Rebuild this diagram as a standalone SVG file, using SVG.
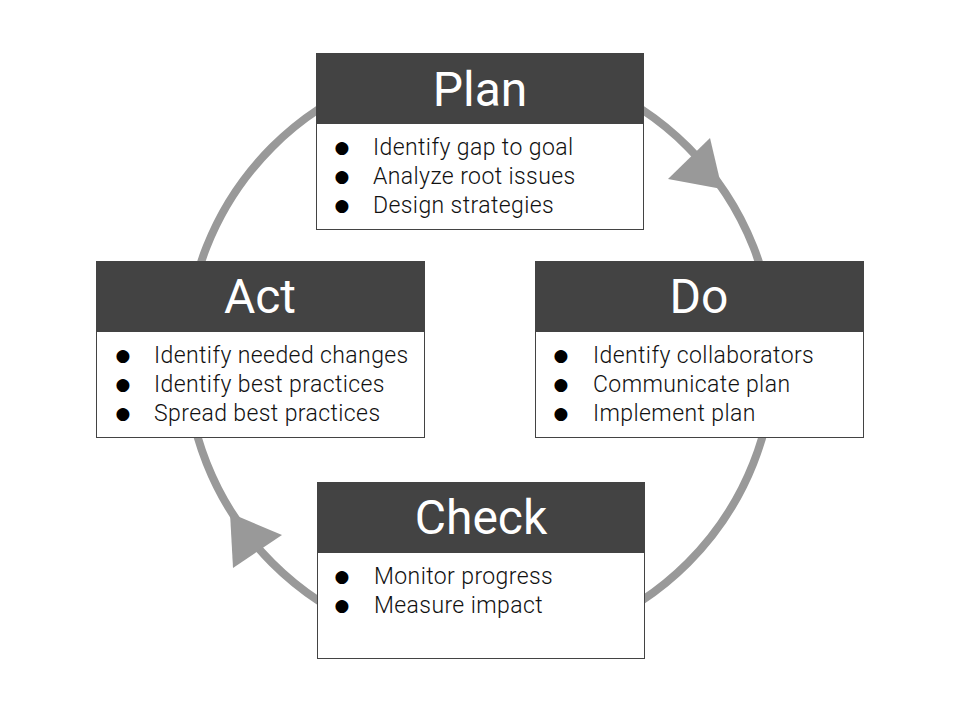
<svg xmlns="http://www.w3.org/2000/svg" width="960" height="720" viewBox="0 0 960 720">
<style>
.hdr{fill:#434343;stroke:#434343;stroke-width:1}
.body{fill:#fff;stroke:#434343;stroke-width:1}
.title{font-family:Roboto,"Liberation Sans",sans-serif;font-size:48px;fill:#fff;text-anchor:middle}
.item{font-family:Roboto,"Liberation Sans",sans-serif;font-weight:300;font-size:23px;letter-spacing:0.4px;fill:#111}
.bul{font-family:"DejaVu Sans",sans-serif;font-size:17px;fill:#000;text-anchor:middle}
.ring{fill:none;stroke:#999;stroke-width:8}
.head{fill:#999}
</style>
<rect width="960" height="720" fill="#fff"/>
<g id="connectors">
<circle class="ring" cx="480" cy="355" r="294"/>
<polygon class="head" points="710,138 668,179 722,189"/>
<polygon class="head" points="230,513 282,535 233,568"/>
</g>
<g id="plan">
<rect class="body" x="316.5" y="53.5" width="327" height="176"/>
<rect class="hdr" x="316.5" y="53.5" width="327" height="70"/>
<text class="title" x="480" y="106">Plan</text>
<text class="bul" x="342" y="153">●</text><text class="item" x="373" y="155">Identify gap to goal</text>
<text class="bul" x="342" y="182">●</text><text class="item" x="373" y="184">Analyze root issues</text>
<text class="bul" x="342" y="211">●</text><text class="item" x="373" y="213">Design strategies</text>
</g>
<g id="do">
<rect class="body" x="535.5" y="261.5" width="328" height="176"/>
<rect class="hdr" x="535.5" y="261.5" width="328" height="70"/>
<text class="title" x="699" y="313">Do</text>
<text class="bul" x="561" y="361">●</text><text class="item" x="593" y="363">Identify collaborators</text>
<text class="bul" x="561" y="390">●</text><text class="item" x="593" y="392">Communicate plan</text>
<text class="bul" x="561" y="419">●</text><text class="item" x="593" y="421">Implement plan</text>
</g>
<g id="check">
<rect class="body" x="317.5" y="482.5" width="327" height="176"/>
<rect class="hdr" x="317.5" y="482.5" width="327" height="70"/>
<text class="title" x="481" y="534">Check</text>
<text class="bul" x="342" y="582">●</text><text class="item" x="374" y="584">Monitor progress</text>
<text class="bul" x="342" y="611">●</text><text class="item" x="374" y="613">Measure impact</text>
</g>
<g id="act">
<rect class="body" x="96.5" y="261.5" width="328" height="176"/>
<rect class="hdr" x="96.5" y="261.5" width="328" height="70"/>
<text class="title" x="260" y="313">Act</text>
<text class="bul" x="123" y="361">●</text><text class="item" x="154" y="363">Identify needed changes</text>
<text class="bul" x="123" y="390">●</text><text class="item" x="154" y="392">Identify best practices</text>
<text class="bul" x="123" y="419">●</text><text class="item" x="154" y="421">Spread best practices</text>
</g>
</svg>
